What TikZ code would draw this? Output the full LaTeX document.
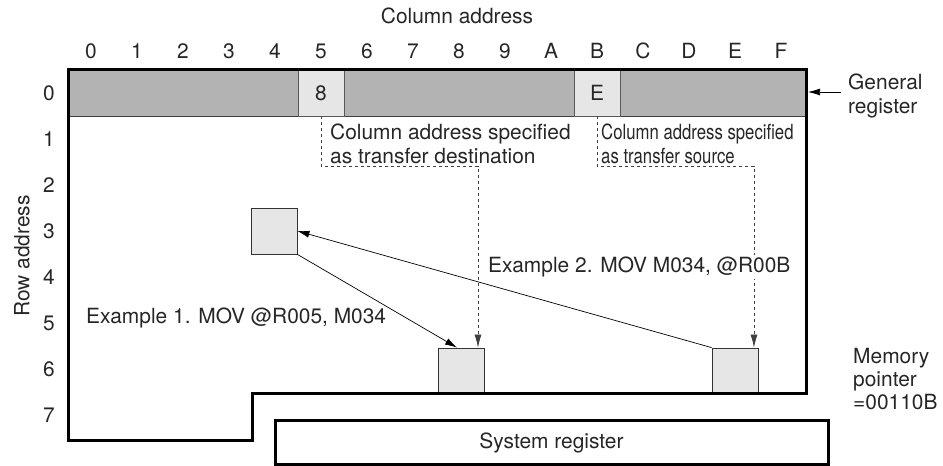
\documentclass[tikz,border=0pt]{standalone}
\usepackage{fontspec}
\setmainfont{TeX Gyre Heros}
\newfontfamily\narrowfont[FakeStretch=0.8]{TeX Gyre Heros}
\usetikzlibrary{arrows.meta,calc}
\definecolor{regfill}{HTML}{B3B3B3}
\definecolor{cellfill}{HTML}{E6E6E6}
\definecolor{txt}{HTML}{262626}
\tikzset{
  outline/.style={line width=3bp, black},
  regcell/.style={draw=black!65, fill=cellfill, line width=0.8bp, minimum width=46bp, minimum height=46bp, inner sep=0},
  membox/.style={draw=black!80, fill=cellfill, line width=0.8bp, minimum width=46bp, minimum height=46bp, inner sep=0},
  dashline/.style={dash pattern=on 3bp off 3bp, line width=0.7bp, black!75},
  arr/.style={-{Latex[length=12bp,width=7bp]}, line width=0.7bp, black},
  lbl/.style={inner sep=0},
  mainfont/.style={font=\fontsize{21}{23.5}\selectfont},
}
\begin{document}
\begin{tikzpicture}[x=1bp,y=-1bp, every node/.style={text=txt, mainfont}]
\useasboundingbox (0,0) rectangle (943,466);

% titles
\node (coladdr) at (457,16) {Column address};
\node[rotate=90] (rowaddr) at (22,256) {Row address};

% column labels
\foreach \c [count=\i from 0] in {0,1,2,3,4,5,6,7,8,9,A,B,C,D,E,F}
  \node (cl\c) at (91+46*\i,51) {\c};
% row labels
\foreach \r in {0,...,7}
  \node (rl\r) at (49,93+46*\r) {\r};

% general register row
\path[fill=regfill, draw=black!75, line width=0.8bp] (68,70) rectangle (806,116);
\node[regcell] (c5) at (321,93) {8};
\node[regcell] (cB) at (597,93) {E};

% memory cells
\node[membox] (m43) at (274,231) {};
\node[membox] (m86) at (461,371) {};
\node[membox] (mE6) at (735,371) {};

% memory outline
\draw[outline] (68,70) -- (806,70) -- (806,394) -- (252,394) -- (252,440) -- (68,440) -- cycle;

% system register
\node[draw=black, line width=3bp, minimum width=553bp, minimum height=43bp, inner sep=0] (sysreg) at (551.5,442.5) {System register};

% side labels
\node[lbl, anchor=west, align=left] (greg) at (848,96) {General\\register};
\coordinate (gtip) at (808,92);
\draw[arr] (gtip -| greg.west) ++(-7,0) -- (gtip);
\node[lbl, anchor=west, align=left] (mptr) at (853,379) {Memory\\pointer\\=00110B};

% dashed labels
\node[lbl, anchor=north west, align=left] (dstlbl) at (330,124) {Column address specified\\as transfer destination};
\node[lbl, anchor=north west, align=left, font=\narrowfont\fontsize{21}{23.5}\selectfont] (srclbl) at (601,124) {Column address specified\\as transfer source};

\coordinate (k1) at (478,166);
\draw[dashline, -{Latex[length=13bp,width=7bp]}] (c5.south) |- (k1) -- (k1 |- m86.north);
\coordinate (k2) at (754,166);
\draw[dashline, -{Latex[length=13bp,width=7bp]}] (cB.south) |- (k2) -- (k2 |- mE6.north);

% examples
\node[lbl, anchor=west] (ex1) at (86,318) {Example 1. MOV @R005, M034};
\node[lbl, anchor=west, fill=white, inner sep=2bp] (ex2) at (486,267) {Example 2. MOV M034, @R00B};

% transfer arrows
\draw[arr] (m43.south east) -- ([xshift=-4bp]m86.north);
\draw[arr] (mE6.north west) -- (m43.east);
\end{tikzpicture}
\end{document}
